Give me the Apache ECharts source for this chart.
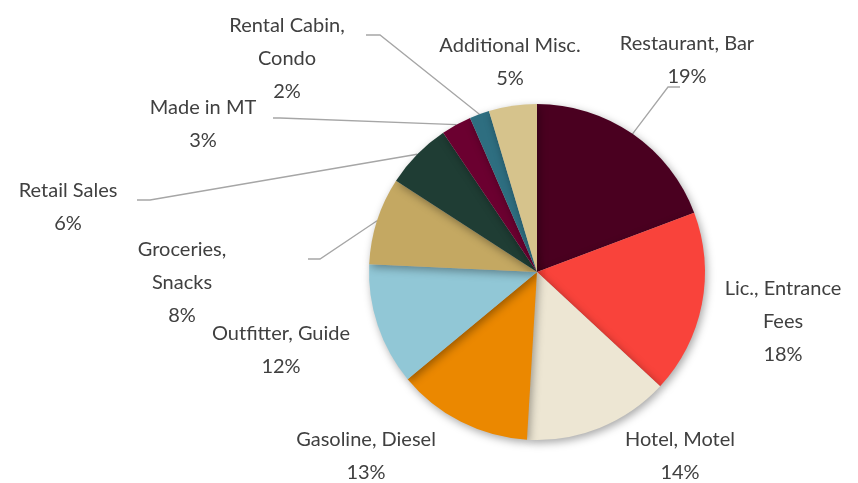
<!DOCTYPE html>
<html>
<head>
<meta charset="utf-8">
<script src="https://cdn.jsdelivr.net/npm/echarts@6/dist/echarts.min.js"></script>
<style>
    html, body { margin: 0; padding: 0; background: #fff; }
    #chart { width: 858px; height: 483px; }
</style>
</head>
<body>
<div id="chart"></div>
<script>
// 类别与占比（顺时针，从12点方向开始）
const categories = [
    'Restaurant, Bar',
    'Lic., Entrance\nFees',
    'Hotel, Motel',
    'Gasoline, Diesel',
    'Outfitter, Guide',
    'Groceries,\nSnacks',
    'Retail Sales',
    'Made in MT',
    'Rental Cabin,\nCondo',
    'Additional Misc.'
];
const values = [19.2, 17.6, 14.0, 13.0, 11.7, 8.4, 6.4, 2.9, 1.9, 4.6];

const sliceColors = ['#4a0020', '#f9433b', '#ede6d3', '#eb8800', '#91c7d6',
                     '#c4a862', '#1f3d34', '#6b0030', '#2e6e80', '#d6c38c'];

// 标签位置（文字块中心）
const labelPos = [
    [687, 60], [783, 322], [680, 456], [366, 456], [281, 350],
    [182, 283], [68, 207], [203, 124], [287, 59], [510, 62]
];
// 引导线折点与终点（null 表示不画）
const guidePts = [
    [[668, 87], [680, 87]], null, null, null, null,
    [[320, 259], [308, 259]], [[150, 200], [137, 200]],
    [[280, 118], [273, 118]], [[380, 35], [366, 35]], null
];

const chart = echarts.init(document.getElementById('chart'));

const option = {
    animation: false,
    series: [{
        type: 'pie',
        center: [537, 272],
        radius: 168,
        startAngle: 90,
        clockwise: true,
        itemStyle: {
            shadowBlur: 8,
            shadowColor: 'rgba(0,0,0,0.35)',
            shadowOffsetX: 2,
            shadowOffsetY: 3
        },
        label: {
            show: true,
            position: 'outside',
            color: '#404040',
            fontFamily: 'Lato',
            fontSize: 20,
            lineHeight: 33,
            align: 'center',
            overflow: 'none',
            formatter: p => p.name + '\n' + Math.round(p.percent) + '%'
        },
        labelLine: {
            show: true,
            length: 15,
            length2: 10,
            lineStyle: { color: '#a6a6a6', width: 1.3 }
        },
        labelLayout: params => {
            const i = params.dataIndex;
            const res = {
                x: labelPos[i][0],
                y: labelPos[i][1],
                align: 'center',
                verticalAlign: 'middle'
            };
            if (guidePts[i] && params.labelLinePoints) {
                res.labelLinePoints = [params.labelLinePoints[0], guidePts[i][0], guidePts[i][1]];
            }
            return res;
        },
        emphasis: { disabled: true },
        data: categories.map((name, i) => ({
            name: name,
            value: values[i],
            itemStyle: { color: sliceColors[i] },
            labelLine: { show: guidePts[i] !== null }
        }))
    }]
};

chart.setOption(option);
</script>
</body>
</html>
